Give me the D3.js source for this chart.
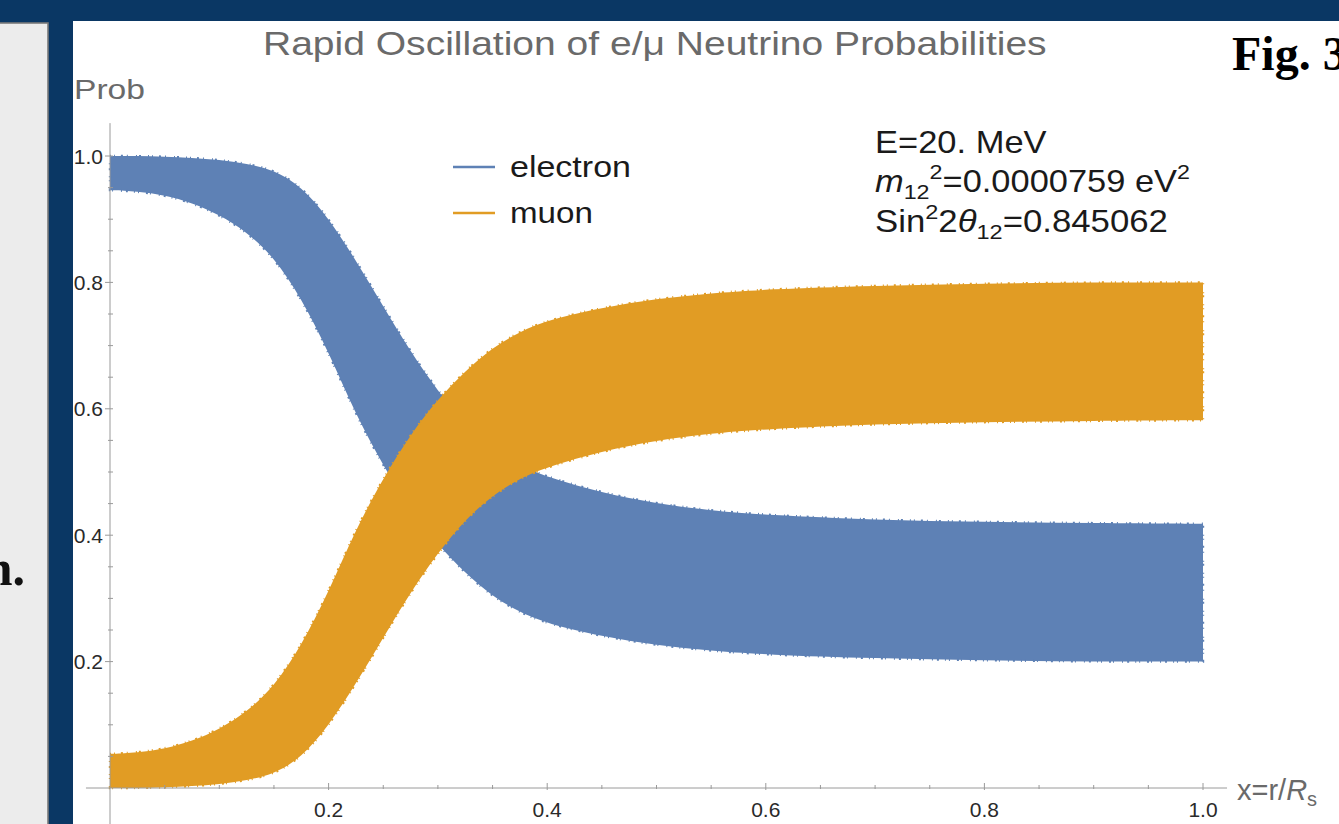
<!DOCTYPE html>
<html>
<head>
<meta charset="utf-8">
<script src="https://cdn.jsdelivr.net/npm/d3@7"></script>
<style>
html,body{margin:0;padding:0;background:#0a3764;overflow:hidden;}
svg{display:block;}
</style>
</head>
<body>
<svg id="chart" width="1339" height="824"></svg>
<script>
// ---- data ----
const xSamples   = [0, 0.025, 0.05, 0.075, 0.10, 0.125, 0.15, 0.175, 0.20, 0.225, 0.25, 0.275, 0.30, 0.325, 0.35, 0.375, 0.40, 0.45, 0.50, 0.55, 0.60, 0.70, 0.80, 0.90, 1.00];
const electronHi = [1.000, 1.000, 0.999, 0.997, 0.994, 0.988, 0.978, 0.952, 0.902, 0.835, 0.762, 0.690, 0.628, 0.575, 0.537, 0.510, 0.492, 0.467, 0.450, 0.439, 0.432, 0.424, 0.421, 0.419, 0.418];
const electronLo = [0.946, 0.944, 0.938, 0.926, 0.907, 0.880, 0.840, 0.775, 0.690, 0.590, 0.510, 0.440, 0.385, 0.340, 0.303, 0.278, 0.260, 0.240, 0.226, 0.217, 0.211, 0.205, 0.202, 0.200, 0.200];
const muonHi     = [0.054, 0.056, 0.062, 0.074, 0.093, 0.120, 0.160, 0.225, 0.310, 0.410, 0.490, 0.560, 0.615, 0.660, 0.697, 0.722, 0.740, 0.760, 0.774, 0.783, 0.789, 0.795, 0.798, 0.800, 0.800];
const muonLo     = [0.000, 0.000, 0.001, 0.003, 0.006, 0.012, 0.022, 0.048, 0.098, 0.165, 0.238, 0.310, 0.372, 0.425, 0.463, 0.490, 0.508, 0.533, 0.550, 0.561, 0.568, 0.576, 0.579, 0.581, 0.582];
const seriesNames = ["electron", "muon"];
const seriesColors = ["#5e81b5", "#e19c24"];
const xTicks = [0.2, 0.4, 0.6, 0.8, 1.0];
const yTicks = [0.2, 0.4, 0.6, 0.8, 1.0];
const minorStep = 0.05;
const titleText = "Rapid Oscillation of e/\u03bc Neutrino Probabilities";

// ---- layout ----
const svg = d3.select("#chart");
const W = 1339, H = 824;
svg.append("rect").attr("x",0).attr("y",0).attr("width",W).attr("height",H).attr("fill","#0a3764");
// left slide panel
svg.append("rect").attr("x",-2).attr("y",23).attr("width",50).attr("height",H).attr("fill","#ececec")
   .attr("stroke","#7a7a7a").attr("stroke-width",1.6);
svg.append("text").attr("x",25).attr("y",585).attr("text-anchor","end")
   .attr("font-family","Liberation Serif, Times New Roman, serif").attr("font-weight","bold")
   .attr("font-size",50).attr("fill","#111").text("n.");
// white chart panel
svg.append("rect").attr("x",73).attr("y",21).attr("width",W-73).attr("height",H-21).attr("fill","#ffffff");

const x = d3.scaleLinear().domain([0,1]).range([110,1203]);
const y = d3.scaleLinear().domain([0,1]).range([788,156]);

const SANS = "Liberation Sans, Arial, Helvetica, sans-serif";

// fit helper: place text group at (px,py) and stretch horizontally to target width
function fitted(parent, px, py, target, build){
  const g = parent.append("g").attr("transform",`translate(${px},${py})`);
  const t = g.append("text").attr("x",0).attr("y",0).attr("font-family",SANS);
  build(t);
  if (target){
    const w = t.node().getBBox().width;
    if (w>0) t.attr("transform",`scale(${target/w},1)`);
  }
  return t;
}

// bands (a thin broken outline in the same colour gives the fuzzy oscillation edge)
const data = xSamples.map((xv,i)=>({x:xv, eHi:electronHi[i], eLo:electronLo[i], mHi:muonHi[i], mLo:muonLo[i]}));
const areaE = d3.area().x(d=>x(d.x)).y0(d=>y(d.eLo)).y1(d=>y(d.eHi)).curve(d3.curveBasis);
const areaM = d3.area().x(d=>x(d.x)).y0(d=>y(d.mLo)).y1(d=>y(d.mHi)).curve(d3.curveBasis);
[areaE, areaM].forEach((a,i)=>{
  svg.append("path").datum(data).attr("d",a).attr("fill",seriesColors[i])
     .attr("stroke",seriesColors[i]).attr("stroke-width",2.4)
     .attr("stroke-dasharray","1 3 1 6 2 4 1 8 1 2 2 7");
});

// axes
const axisColor = "#9a9a9a";
const ax = svg.append("g");
ax.append("line").attr("x1",x(0)).attr("x2",x(0)).attr("y1",y(1.052)).attr("y2",H).attr("stroke",axisColor).attr("stroke-width",1);
ax.append("line").attr("x1",x(-0.022)).attr("x2",x(1.022)).attr("y1",y(0)).attr("y2",y(0)).attr("stroke",axisColor).attr("stroke-width",1);
const minors = d3.range(1,21).map(i=>i*minorStep);
const isMajor = v => Math.abs(v*5 - Math.round(v*5))<1e-6;
minors.forEach(v=>{
  const maj = isMajor(v);
  ax.append("line").attr("x1",x(0)-(maj?5:2)).attr("x2",x(0)+3).attr("y1",y(v)).attr("y2",y(v)).attr("stroke",axisColor);
  ax.append("line").attr("x1",x(v)).attr("x2",x(v)).attr("y1",y(0)-(maj?5:3)).attr("y2",y(0)+(maj?2:1)).attr("stroke",axisColor);
});
const fmt = d3.format(".1f");
ax.selectAll(".yl").data(yTicks).join("text").attr("class","yl")
  .attr("x",103).attr("y",d=>y(d)+7.5).attr("text-anchor","end")
  .attr("font-family",SANS).attr("font-size",21).attr("fill","#2a2a2a").text(fmt);
ax.selectAll(".xl").data(xTicks).join("text").attr("class","xl")
  .attr("x",d=>x(d)).attr("y",817).attr("text-anchor","middle")
  .attr("font-family",SANS).attr("font-size",21).attr("fill","#2a2a2a").text(fmt);

// title and axis labels
fitted(svg,263,55,784,t=>t.attr("font-size",33).attr("fill","#6a6a6a").text(titleText));
fitted(svg,74,99,71,t=>t.attr("font-size",27).attr("fill","#6a6a6a").text("Prob"));
fitted(svg,1237,800,null,t=>{
  t.attr("font-size",29).attr("fill","#6a6a6a");
  t.append("tspan").text("x=r/");
  t.append("tspan").attr("font-style","italic").text("R");
  t.append("tspan").attr("font-size",20).attr("dy",6).text("s");
});

// legend
const leg = svg.append("g");
seriesNames.forEach((n,i)=>{
  const ly = 167 + i*46;
  leg.append("line").attr("x1",453).attr("x2",495).attr("y1",ly).attr("y2",ly).attr("stroke",seriesColors[i]).attr("stroke-width",2.4);
  fitted(leg,510,ly+10,i===0?121:83,t=>t.attr("font-size",29).attr("fill","#1a1a1a").text(n));
});

// annotation
fitted(svg,875,153,172,t=>t.attr("font-size",31).attr("fill","#1a1a1a").text("E=20. MeV"));
fitted(svg,875,192,315,t=>{
  t.attr("font-size",31).attr("fill","#1a1a1a");
  t.append("tspan").attr("font-style","italic").text("m");
  t.append("tspan").attr("font-size",21).attr("dy",7).text("12");
  t.append("tspan").attr("font-size",21).attr("dy",-20).text("2");
  t.append("tspan").attr("dy",13).text("=0.0000759 eV");
  t.append("tspan").attr("font-size",21).attr("dy",-13).text("2");
});
fitted(svg,875,232,293,t=>{
  t.attr("font-size",31).attr("fill","#1a1a1a");
  t.append("tspan").text("Sin");
  t.append("tspan").attr("font-size",21).attr("dy",-13).text("2");
  t.append("tspan").attr("dy",13).text("2");
  t.append("tspan").attr("font-style","italic").text("\u03b8");
  t.append("tspan").attr("font-size",21).attr("dy",7).text("12");
  t.append("tspan").attr("dy",-7).text("=0.845062");
});

// slide caption
svg.append("text").attr("x",1232).attr("y",70)
   .attr("font-family","Liberation Serif, Times New Roman, serif").attr("font-weight","bold")
   .attr("font-size",48).attr("fill","#000").text("Fig. 3");
</script>
</body>
</html>
